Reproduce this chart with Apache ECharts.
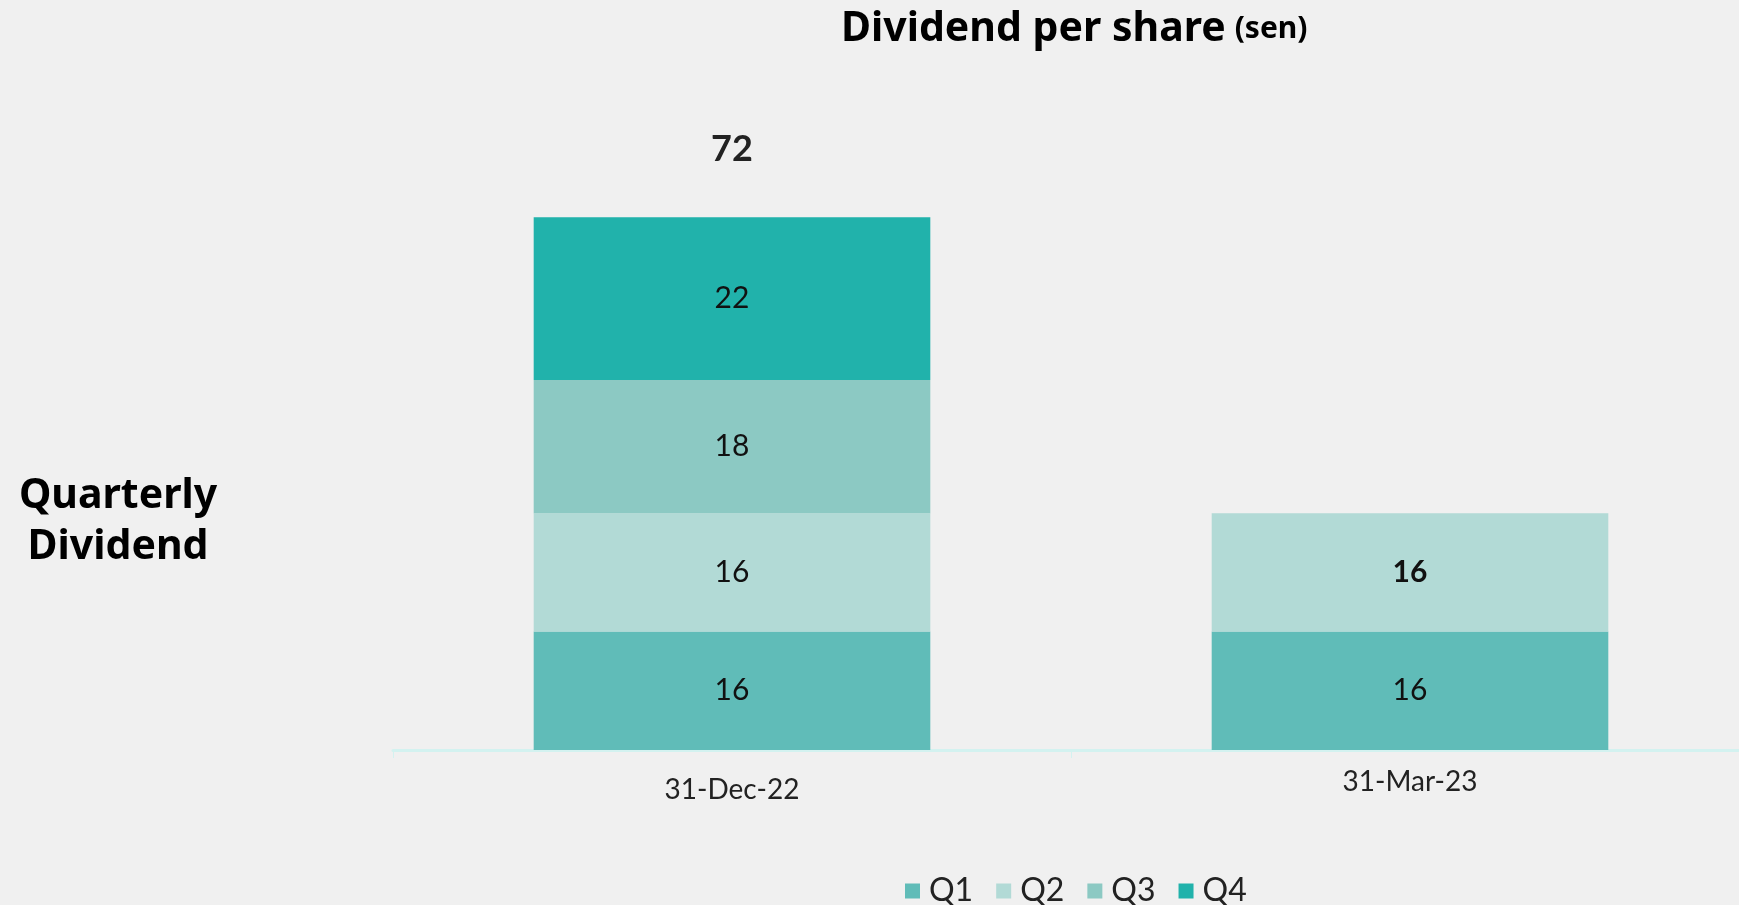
<!DOCTYPE html>
<html>
<head>
<meta charset="utf-8">
<script src="https://cdn.jsdelivr.net/npm/echarts@6/dist/echarts.min.js"></script>
<style>
  html, body { margin: 0; padding: 0; background: #f0f0f0; overflow: hidden; }
  /* the baseline runs off the right edge of the page */
  #chart { width: 1749px; height: 905px; }
</style>
</head>
<body>
<div id="chart"></div>
<script>
// Quarterly dividend per share (sen), stacked by quarter
const categories = ['31-Dec-22', '31-Mar-23'];
const q1 = [16, 16];
const q2 = [16, 16];
const q3 = [18, null];
const q4 = [22, null];
const totals = [72, null];
const seriesNames = ['Q1', 'Q2', 'Q3', 'Q4'];
const colors = ['#60bcb8', '#b2dad6', '#8cc9c3', '#21b2ab'];

const FONT = 'Lato, "Noto Sans", sans-serif';
const HEAD_FONT = '"Noto Sans", Lato, sans-serif';

const insideLabel = {
  show: true,
  position: 'inside',
  color: '#111',
  fontFamily: FONT,
  fontSize: 30,
  formatter: p => (p.value == null ? '' : p.value)
};

function stackSeries(name, values, color) {
  return {
    name: name,
    type: 'bar',
    stack: 'dps',
    barWidth: '58.5%',
    barGap: '-100%',
    itemStyle: { color: color },
    label: insideLabel,
    data: values
  };
}

// the latest quarter's figure is shown in bold
const q2Data = q2.map((v, i) =>
  i === q2.length - 1 ? { value: v, label: { fontWeight: 'bold' } } : v
);

// the first period label sits slightly lower than the second
const categoryData = categories.map((c, i) =>
  i === 0 ? { value: c, textStyle: { padding: [8, 0, 0, 0] } } : c
);

const chart = echarts.init(document.getElementById('chart'), null, { renderer: 'canvas' });
chart.setOption({
  backgroundColor: '#f0f0f0',
  animation: false,
  title: {
    left: 836,
    top: 4,
    text: '{a|Dividend per share}{gap|}{b|(sen)}',
    textStyle: {
      rich: {
        a: { fontFamily: HEAD_FONT, fontWeight: 'bold', fontSize: 41, color: '#000' },
        gap: { width: 9 },
        b: { fontFamily: HEAD_FONT, fontWeight: 'bold', fontSize: 30, color: '#000' }
      }
    }
  },
  graphic: [{
    type: 'text',
    x: 118,
    y: 522,
    style: {
      text: 'Quarterly\nDividend',
      fontFamily: HEAD_FONT,
      fontWeight: 'bold',
      fontSize: 41,
      lineHeight: 51,
      align: 'center',
      verticalAlign: 'middle',
      fill: '#000'
    }
  }],
  legend: {
    data: seriesNames,
    left: 900,
    bottom: -7,
    itemWidth: 15,
    itemHeight: 15,
    itemGap: 23,
    icon: 'rect',
    textStyle: { fontFamily: FONT, fontSize: 32, color: '#222', padding: [0, 0, 0, 4] }
  },
  grid: { left: 393, right: 0, top: 158, bottom: 155 },
  xAxis: {
    type: 'category',
    data: categoryData,
    axisLine: { show: true, lineStyle: { color: '#d3f2f0', width: 3 } },
    axisTick: { show: true, length: 8, lineStyle: { color: '#d3f2f0' } },
    axisLabel: { fontFamily: FONT, fontSize: 28, color: '#222', margin: 18 }
  },
  yAxis: {
    type: 'value',
    min: 0,
    max: 80,
    show: false,
    splitLine: { show: false }
  },
  series: [
    stackSeries('Q1', q1, colors[0]),
    stackSeries('Q2', q2Data, colors[1]),
    stackSeries('Q3', q3, colors[2]),
    stackSeries('Q4', q4, colors[3]),
    {
      name: 'Total',
      type: 'bar',
      barWidth: '58.5%',
      barGap: '-100%',
      z: 1,
      silent: true,
      itemStyle: { color: 'rgba(0,0,0,0)' },
      label: {
        show: true,
        position: 'top',
        distance: 50,
        color: '#222',
        fontFamily: FONT,
        fontWeight: 'bold',
        fontSize: 36,
        formatter: p => (p.value == null ? '' : p.value)
      },
      data: totals
    }
  ]
});
</script>
</body>
</html>
